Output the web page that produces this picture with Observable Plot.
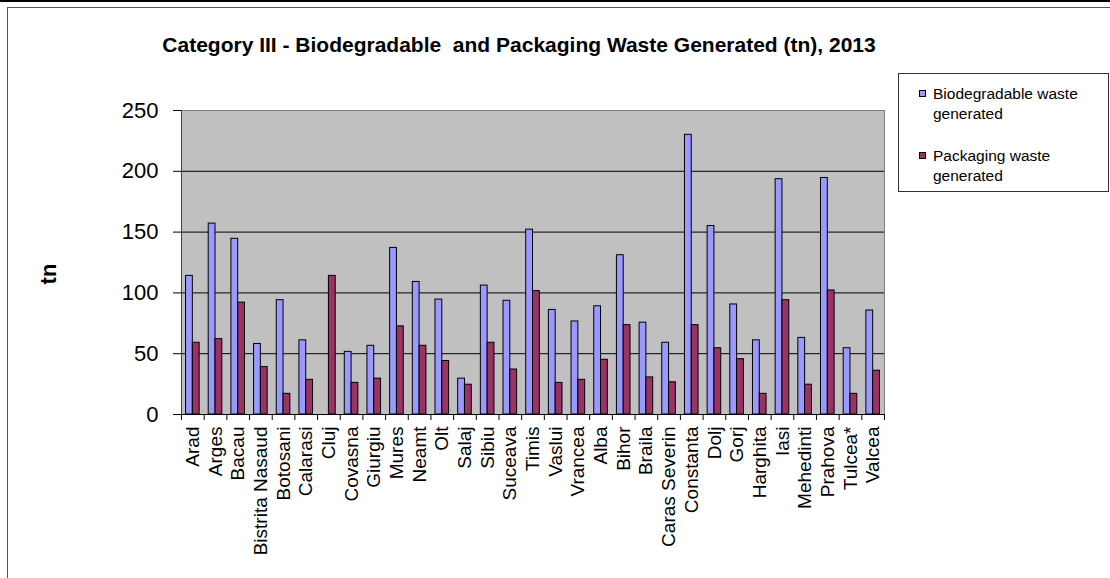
<!DOCTYPE html>
<html>
<head>
<meta charset="utf-8">
<script src="https://cdn.jsdelivr.net/npm/d3@7"></script>
<script src="https://cdn.jsdelivr.net/npm/@observablehq/plot@0.6"></script>
<style>
  body { margin: 0; background: #fff; }
  #wrap { position: relative; width: 1110px; height: 578px; overflow: hidden;
          font-family: "Liberation Sans", Arial, sans-serif; }
  #wrap svg { position: absolute; left: 0; top: 0; }
</style>
</head>
<body>
<div id="wrap"></div>
<script>
// Counties, in the order shown on the category axis
const regions = [
  "Arad", "Arges", "Bacau", "Bistrita Nasaud", "Botosani", "Calarasi", "Cluj",
  "Covasna", "Giurgiu", "Mures", "Neamt", "Olt", "Salaj", "Sibiu", "Suceava",
  "Timis", "Vaslui", "Vrancea", "Alba", "Bihor", "Braila", "Caras Severin",
  "Constanta", "Dolj", "Gorj", "Harghita", "Iasi", "Mehedinti", "Prahova",
  "Tulcea*", "Valcea"
];
// Tonnes of waste generated per county, 2013 (Cluj has no biodegradable figure)
const biodegradable = [
  114, 157, 144.5, 58, 94, 61, null, 51.5, 56.5, 137, 109, 94.5, 29.5, 106, 93.5,
  152, 86, 76.5, 89, 131, 75.5, 59, 230, 155, 90.5, 61, 193.5, 63, 194.5, 54.5, 85.5
];
const packaging = [
  59, 62, 92, 39, 17, 28.5, 114, 26, 29.5, 72.5, 56.5, 44, 24.5, 59, 37,
  101.5, 26, 28.5, 45, 73.5, 30.5, 26.5, 73.5, 54.5, 45.5, 17, 94, 24.5, 102, 17, 36
];
const yTicks = [0, 50, 100, 150, 200, 250];
const seriesNames = ["Biodegradable waste generated", "Packaging waste generated"];
const seriesColors = ["#9999ff", "#993366"];
const titleText = "Category III - Biodegradable\u00a0 and Packaging Waste Generated (tn), 2013";
const yTitle = "tn";

const rows = regions.map((region, i) => ({
  region, bio: biodegradable[i], pack: packaging[i]
}));

// Plot geometry
const W = 1110, H = 578;
const mL = 181, mR = 226, mT = 110, mB = 164;
const padIn = 0.4, padOut = 0.2;
const step = (W - mL - mR) / (regions.length - padIn + 2 * padOut);
const bw = step * (1 - padIn);
const font = "'Liberation Sans', Arial, sans-serif";

const chart = Plot.plot({
  width: W,
  height: H,
  marginLeft: mL,
  marginRight: mR,
  marginTop: mT,
  marginBottom: mB,
  style: { fontFamily: font, background: "transparent", color: "#000", overflow: "visible" },
  x: { domain: regions, paddingInner: padIn, paddingOuter: padOut, round: false, label: null },
  y: { domain: [0, 250], label: null },
  marks: [
    Plot.frame({ fill: "#c0c0c0", stroke: "#808080" }),
    Plot.gridY(yTicks.slice(1, -1), { stroke: "#000", strokeOpacity: 1 }),
    Plot.barY(rows.filter(d => d.bio != null), {
      x: "region", y: "bio", fill: seriesColors[0], stroke: "#000", strokeWidth: 1,
      insetRight: bw / 2
    }),
    Plot.barY(rows, {
      x: "region", y: "pack", fill: seriesColors[1], stroke: "#000", strokeWidth: 1,
      insetLeft: bw / 2
    }),
    Plot.ruleY([0], { stroke: "#000" }),
    Plot.ruleX([regions[0]], { y1: 0, y2: 250, dx: -step / 2, stroke: "#404040" }),
    // category separators below the axis
    Plot.ruleX(regions, { y1: 0, y2: 0, dx: -step / 2, insetBottom: -6, stroke: "#000" }),
    Plot.ruleX([regions[regions.length - 1]], { y1: 0, y2: 0, dx: step / 2, insetBottom: -6, stroke: "#000" }),
    Plot.axisY({ ticks: yTicks, tickSize: 8, tickPadding: 15, fontSize: 22, label: null }),
    Plot.axisX({ tickSize: 0, tickRotate: -90, tickPadding: 12, fontSize: 19, label: null })
  ]
});

const wrap = document.getElementById("wrap");
wrap.appendChild(chart);

// Title, axis title, legend and outer frame
const svg = d3.select(wrap).append("svg")
  .attr("width", W).attr("height", H)
  .style("font-family", font);

svg.append("rect").attr("x", 0).attr("y", 0).attr("width", W).attr("height", 2).attr("fill", "#000");
svg.append("rect").attr("x", 7.5).attr("y", 7.5).attr("width", W).attr("height", H)
  .attr("fill", "none").attr("stroke", "#555");

svg.append("text")
  .attr("x", 519).attr("y", 52)
  .attr("text-anchor", "middle")
  .attr("font-size", 21).attr("font-weight", "bold")
  .text(titleText);

svg.append("text")
  .attr("transform", "translate(56,274) rotate(-90)")
  .attr("text-anchor", "middle")
  .attr("font-size", 22).attr("font-weight", "bold")
  .text(yTitle);

const legend = svg.append("g");
legend.append("rect").attr("x", 898.5).attr("y", 73.5).attr("width", 210).attr("height", 118)
  .attr("fill", "#fff").attr("stroke", "#333");
const itemY = [94, 156];
seriesNames.forEach((name, i) => {
  const words = name.split(" ");
  legend.append("rect")
    .attr("x", 919.5).attr("y", itemY[i] - 3.5).attr("width", 6).attr("height", 6)
    .attr("fill", seriesColors[i]).attr("stroke", "#000");
  const t = legend.append("text").attr("font-size", 15.5).attr("fill", "#000");
  t.append("tspan").attr("x", 933).attr("y", itemY[i] + 5).text(words.slice(0, -1).join(" "));
  t.append("tspan").attr("x", 933).attr("y", itemY[i] + 25).text(words[words.length - 1]);
});
</script>
</body>
</html>
